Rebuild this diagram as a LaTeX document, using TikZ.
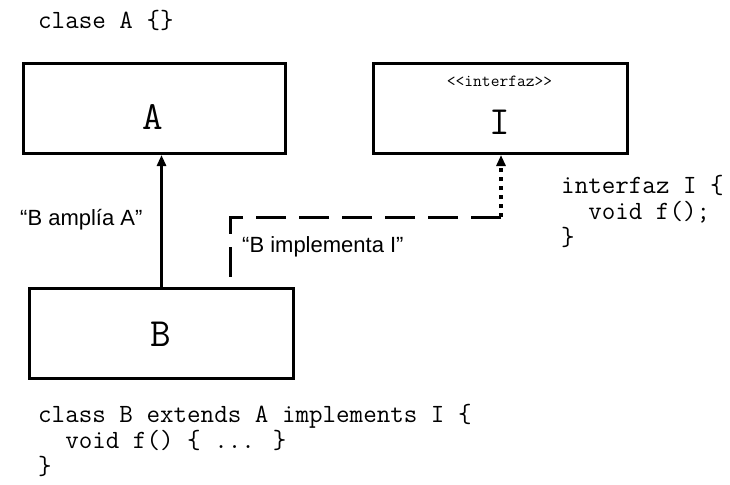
\documentclass[tikz,border=0pt]{standalone}
\usepackage{fontspec}
\setmainfont{Liberation Sans}
\usetikzlibrary{arrows.meta}
\begin{document}
\begin{tikzpicture}[x=1pt,y=-1pt,
  box/.style={draw, line width=3pt, inner sep=0pt, minimum height=90pt},
  code/.style={font=\ttfamily\fontsize{26.3}{26}\selectfont, anchor=base west, inner sep=0pt, align=left},
  big/.style={font=\ttfamily\fontsize{40}{44}\selectfont, anchor=base, inner sep=0pt},
  stereo/.style={font=\ttfamily\fontsize{17}{19}\selectfont, anchor=base, inner sep=0pt},
  lbl/.style={font=\fontsize{22}{25}\selectfont, anchor=base west, inner sep=0pt},
  tip/.style={-{Triangle[length=11pt,width=9pt]}},
  inh/.style={tip, line width=2.7pt},
  impl/.style={line width=3pt, dash pattern=on 30pt off 13pt},
  dotln/.style={tip, line width=4.5pt, dash pattern=on 4.5pt off 4.5pt}]
\useasboundingbox (0,0) rectangle (730,484);
% boxes
\node[box, minimum width=262pt] (A) at (154.5,108.5) {};
\node[box, minimum width=254pt] (I) at (500.5,108.5) {};
\node[box, minimum width=264pt] (B) at (161.5,333.5) {};
\node[big] (Aname) at (153,129) {A};
\node[big] (Iname) at (499.5,135) {I};
\node[big] (Bname) at (161,346) {B};
\node[stereo] (st) at (499.5,87) {<{}<interfaz>{}>};
% connectors
\draw[inh] (B.north) -- (B.north |- A.south);
\coordinate (corner) at (501,217);
\draw[impl] (corner) -| ([xshift=68.5pt]B.north);
\draw[dotln] (corner) -- (corner |- I.south);
% labels
\node[lbl] (l1) at (20,225) {“B amplía A”};
\node[lbl] (l2) at (242,252) {“B implementa I”};
% code
\node[code] (c1) at (38,29) {clase A \{\}};
\node[code] (iface) at (561,245)
  {interfaz I \{\\\phantom{xx}void f();\\\}};
\node[code] (bcode) at (38,474)
  {class B extends A implements I \{\\\phantom{xx}void f() \{ ... \}\\\}};
\end{tikzpicture}
\end{document}
